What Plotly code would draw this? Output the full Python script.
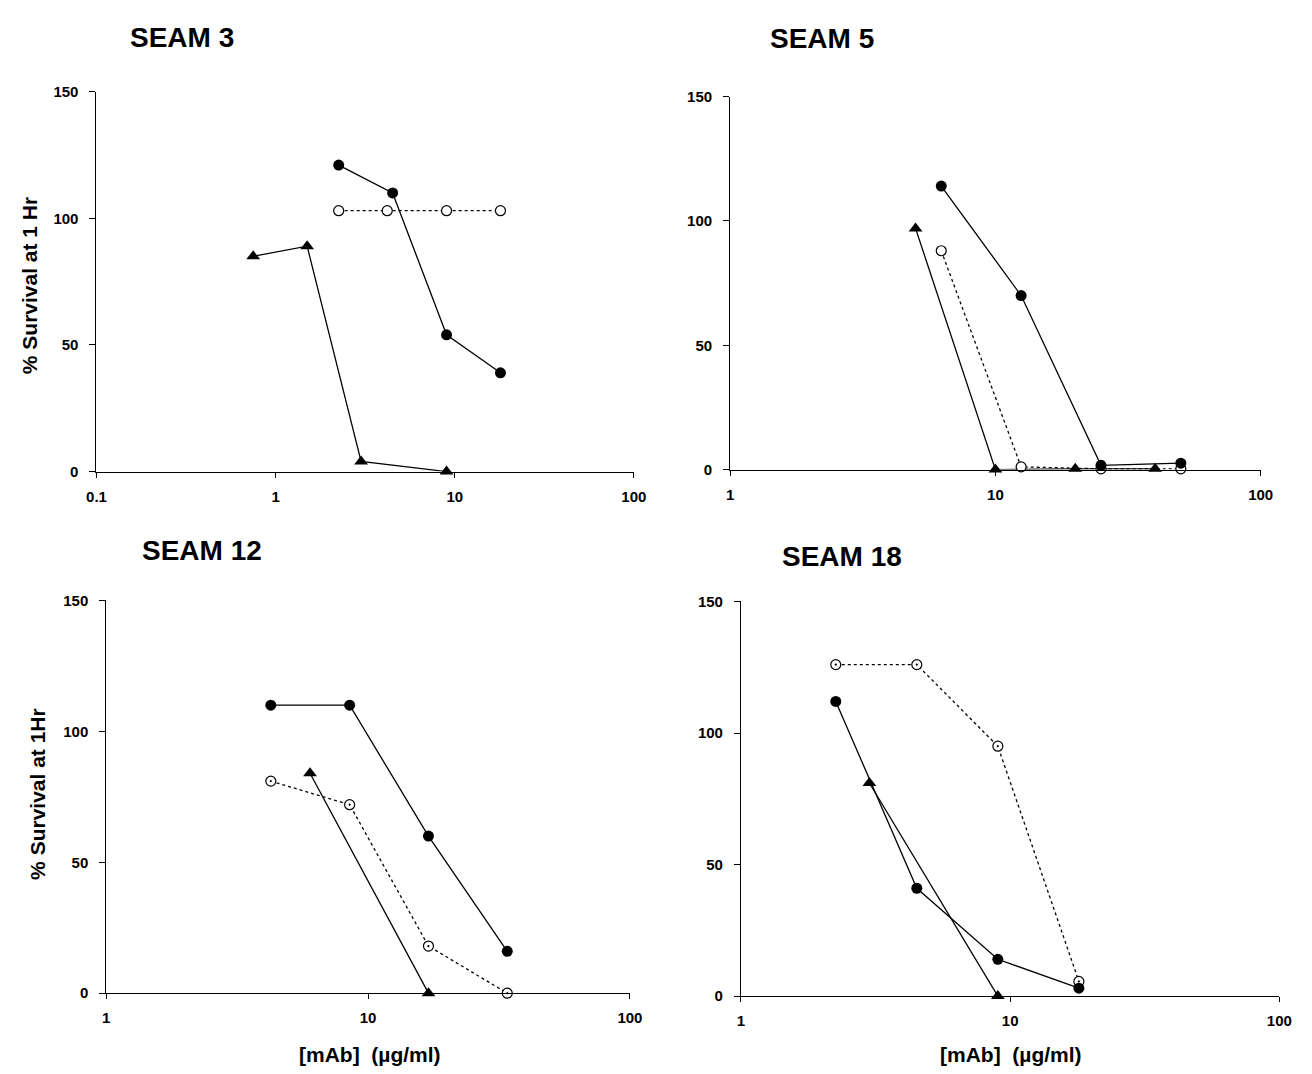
import plotly.graph_objects as go

# ---------------- data ----------------
panel_titles = ["SEAM 3", "SEAM 5", "SEAM 12", "SEAM 18"]

s3_filled_x = [2.25, 4.5, 9, 18]
s3_filled_y = [121, 110, 54, 39]
s3_open_x = [2.25, 4.2, 9, 18]
s3_open_y = [103, 103, 103, 103]
s3_tri_x = [0.75, 1.5, 3, 9]
s3_tri_y = [85, 89, 4, 0]

s5_filled_x = [6.25, 12.5, 25, 50]
s5_filled_y = [114, 70, 1.7, 2.6]
s5_open_x = [6.25, 12.5, 25, 50]
s5_open_y = [88, 1.1, 0.3, 0.3]
s5_tri_x = [5, 10, 20, 40]
s5_tri_y = [97, 0, 0.3, 0.3]

s12_filled_x = [4.25, 8.5, 17, 34]
s12_filled_y = [110, 110, 60, 16]
s12_open_x = [4.25, 8.5, 17, 34]
s12_open_y = [81, 72, 18, 0]
s12_tri_x = [6, 17]
s12_tri_y = [84, 0]

s18_open_x = [2.25, 4.5, 9, 18]
s18_open_y = [126, 126, 95, 5.6]
s18_filled_x = [2.25, 4.5, 9, 18]
s18_filled_y = [112, 41, 14, 3]
s18_tri_x = [3, 9]
s18_tri_y = [81, 0]

y_ticks = [0, 50, 100, 150]
x_ticks_p1 = [0.1, 1, 10, 100]
x_ticklabels_p1 = ["0.1", "1", "10", "100"]
x_ticks = [1, 10, 100]
x_ticklabels = ["1", "10", "100"]

y_title_top = "% Survival at 1 Hr"
y_title_bottom = "% Survival at 1Hr"
x_title = "[mAb]  (\u00b5g/ml)"

# ---------------- layout helpers ----------------
W, H = 1312, 1074
FONT = "Liberation Sans, Arial, Helvetica, sans-serif"

# pixel boxes (left, right, top, bottom)
boxes = [(88, 635, 84, 470), (733, 1273, 89, 468), (98, 631, 601, 1000), (744, 1292, 602, 1003)]
xranges = [[-1, 2], [0, 2], [0, 2], [0, 2]]

fig = go.Figure()

def add_series(i, x, y, kind, open_dot=False):
    xa = "x" if i == 0 else f"x{i+1}"
    ya = "y" if i == 0 else f"y{i+1}"
    if kind == "filled":
        marker = dict(symbol="circle", size=11, color="black", line=dict(color="black", width=0))
        line = dict(color="black", width=1.3)
    elif kind == "open":
        marker = dict(symbol="circle-dot" if open_dot else "circle", size=10, color="white",
                      line=dict(color="black", width=1.2))
        line = dict(color="black", width=1.3, dash="dot")
    else:
        marker = dict(symbol="triangle-up", size=12, color="black", line=dict(color="black", width=0))
        line = dict(color="black", width=1.3)
    fig.add_trace(go.Scatter(x=x, y=y, mode="lines+markers", marker=marker, line=line,
                             xaxis=xa, yaxis=ya, cliponaxis=False, showlegend=False,
                             hoverinfo="x+y"))

add_series(0, s3_tri_x, s3_tri_y, "tri")
add_series(0, s3_open_x, s3_open_y, "open")
add_series(0, s3_filled_x, s3_filled_y, "filled")

add_series(1, s5_tri_x, s5_tri_y, "tri")
add_series(1, s5_open_x, s5_open_y, "open")
add_series(1, s5_filled_x, s5_filled_y, "filled")

add_series(2, s12_tri_x, s12_tri_y, "tri")
add_series(2, s12_open_x, s12_open_y, "open", open_dot=True)
add_series(2, s12_filled_x, s12_filled_y, "filled")

add_series(3, s18_tri_x, s18_tri_y, "tri")
add_series(3, s18_open_x, s18_open_y, "open", open_dot=True)
add_series(3, s18_filled_x, s18_filled_y, "filled")

tickfont = dict(family=FONT, size=15, color="black", weight="bold")
layout = dict(width=W, height=H, margin=dict(l=0, r=0, t=0, b=0),
              paper_bgcolor="white", plot_bgcolor="white", showlegend=False,
              font=dict(family=FONT, color="black"))

for i, (l, r, t, b) in enumerate(boxes):
    xk = "xaxis" if i == 0 else f"xaxis{i+1}"
    yk = "yaxis" if i == 0 else f"yaxis{i+1}"
    xname = "x" if i == 0 else f"x{i+1}"
    yname = "y" if i == 0 else f"y{i+1}"
    tv = x_ticks_p1 if i == 0 else x_ticks
    tt = x_ticklabels_p1 if i == 0 else x_ticklabels
    xdom = [l / W, r / W]
    ydom = [1 - b / H, 1 - t / H]
    layout[xk] = dict(domain=xdom, anchor=yname, type="log", range=xranges[i],
                      tickmode="array", tickvals=tv, ticktext=tt, ticks="outside", ticklen=5,
                      tickwidth=1, tickcolor="black", showline=True, linecolor="black",
                      linewidth=1.2, showgrid=False, zeroline=False, tickfont=tickfont,
                      ticklabelstandoff=6, fixedrange=True)
    layout[yk] = dict(domain=ydom, anchor=xname, range=[0, 150],
                      tickmode="array", tickvals=y_ticks, ticks="outside", ticklen=6,
                      tickwidth=1, tickcolor="black", showline=True, linecolor="black",
                      linewidth=1, showgrid=False, zeroline=False, tickfont=tickfont,
                      ticklabelstandoff=8, fixedrange=True)
    # overlay axes giving the inner half of the crossing ticks
    layout[f"xaxis{i+5}"] = dict(domain=xdom, anchor=yname, overlaying=xname, type="log",
                                 range=xranges[i], tickmode="array", tickvals=tv, ticks="inside",
                                 ticklen=5, tickwidth=1, tickcolor="black", showticklabels=False,
                                 showline=False, showgrid=False, zeroline=False, fixedrange=True)
    layout[f"yaxis{i+5}"] = dict(domain=ydom, anchor=xname, overlaying=yname, range=[0, 150],
                                 tickmode="array", tickvals=y_ticks, ticks="inside",
                                 ticklen=6, tickwidth=1, tickcolor="black", showticklabels=False,
                                 showline=False, showgrid=False, zeroline=False, fixedrange=True)

fig.update_layout(**layout)

titlefont = dict(family=FONT, size=28, color="black", weight="bold")
title_pos = [(175, 29), (826, 30), (195, 550), (847, 556)]
for txt, (px, py) in zip(panel_titles, title_pos):
    fig.add_annotation(text=txt, x=px / W, y=1 - py / H, xref="paper", yref="paper",
                       showarrow=False, xanchor="center", yanchor="middle", font=titlefont)

labfont = dict(family=FONT, size=21, color="black", weight="bold")
fig.add_annotation(text=y_title_top, x=20 / W, y=1 - 281 / H, xref="paper", yref="paper",
                   showarrow=False, textangle=-90, xanchor="center", yanchor="middle", font=labfont)
fig.add_annotation(text=y_title_bottom, x=28 / W, y=1 - 798 / H, xref="paper", yref="paper",
                   showarrow=False, textangle=-90, xanchor="center", yanchor="middle", font=labfont)
for cx in (366, 1019):
    fig.add_annotation(text=x_title, x=cx / W, y=1 - 1062 / H, xref="paper", yref="paper",
                       showarrow=False, xanchor="center", yanchor="middle", font=labfont)

fig.write_html("out.html", config={"displayModeBar": False},
               post_script="document.body.style.margin='0px';")
